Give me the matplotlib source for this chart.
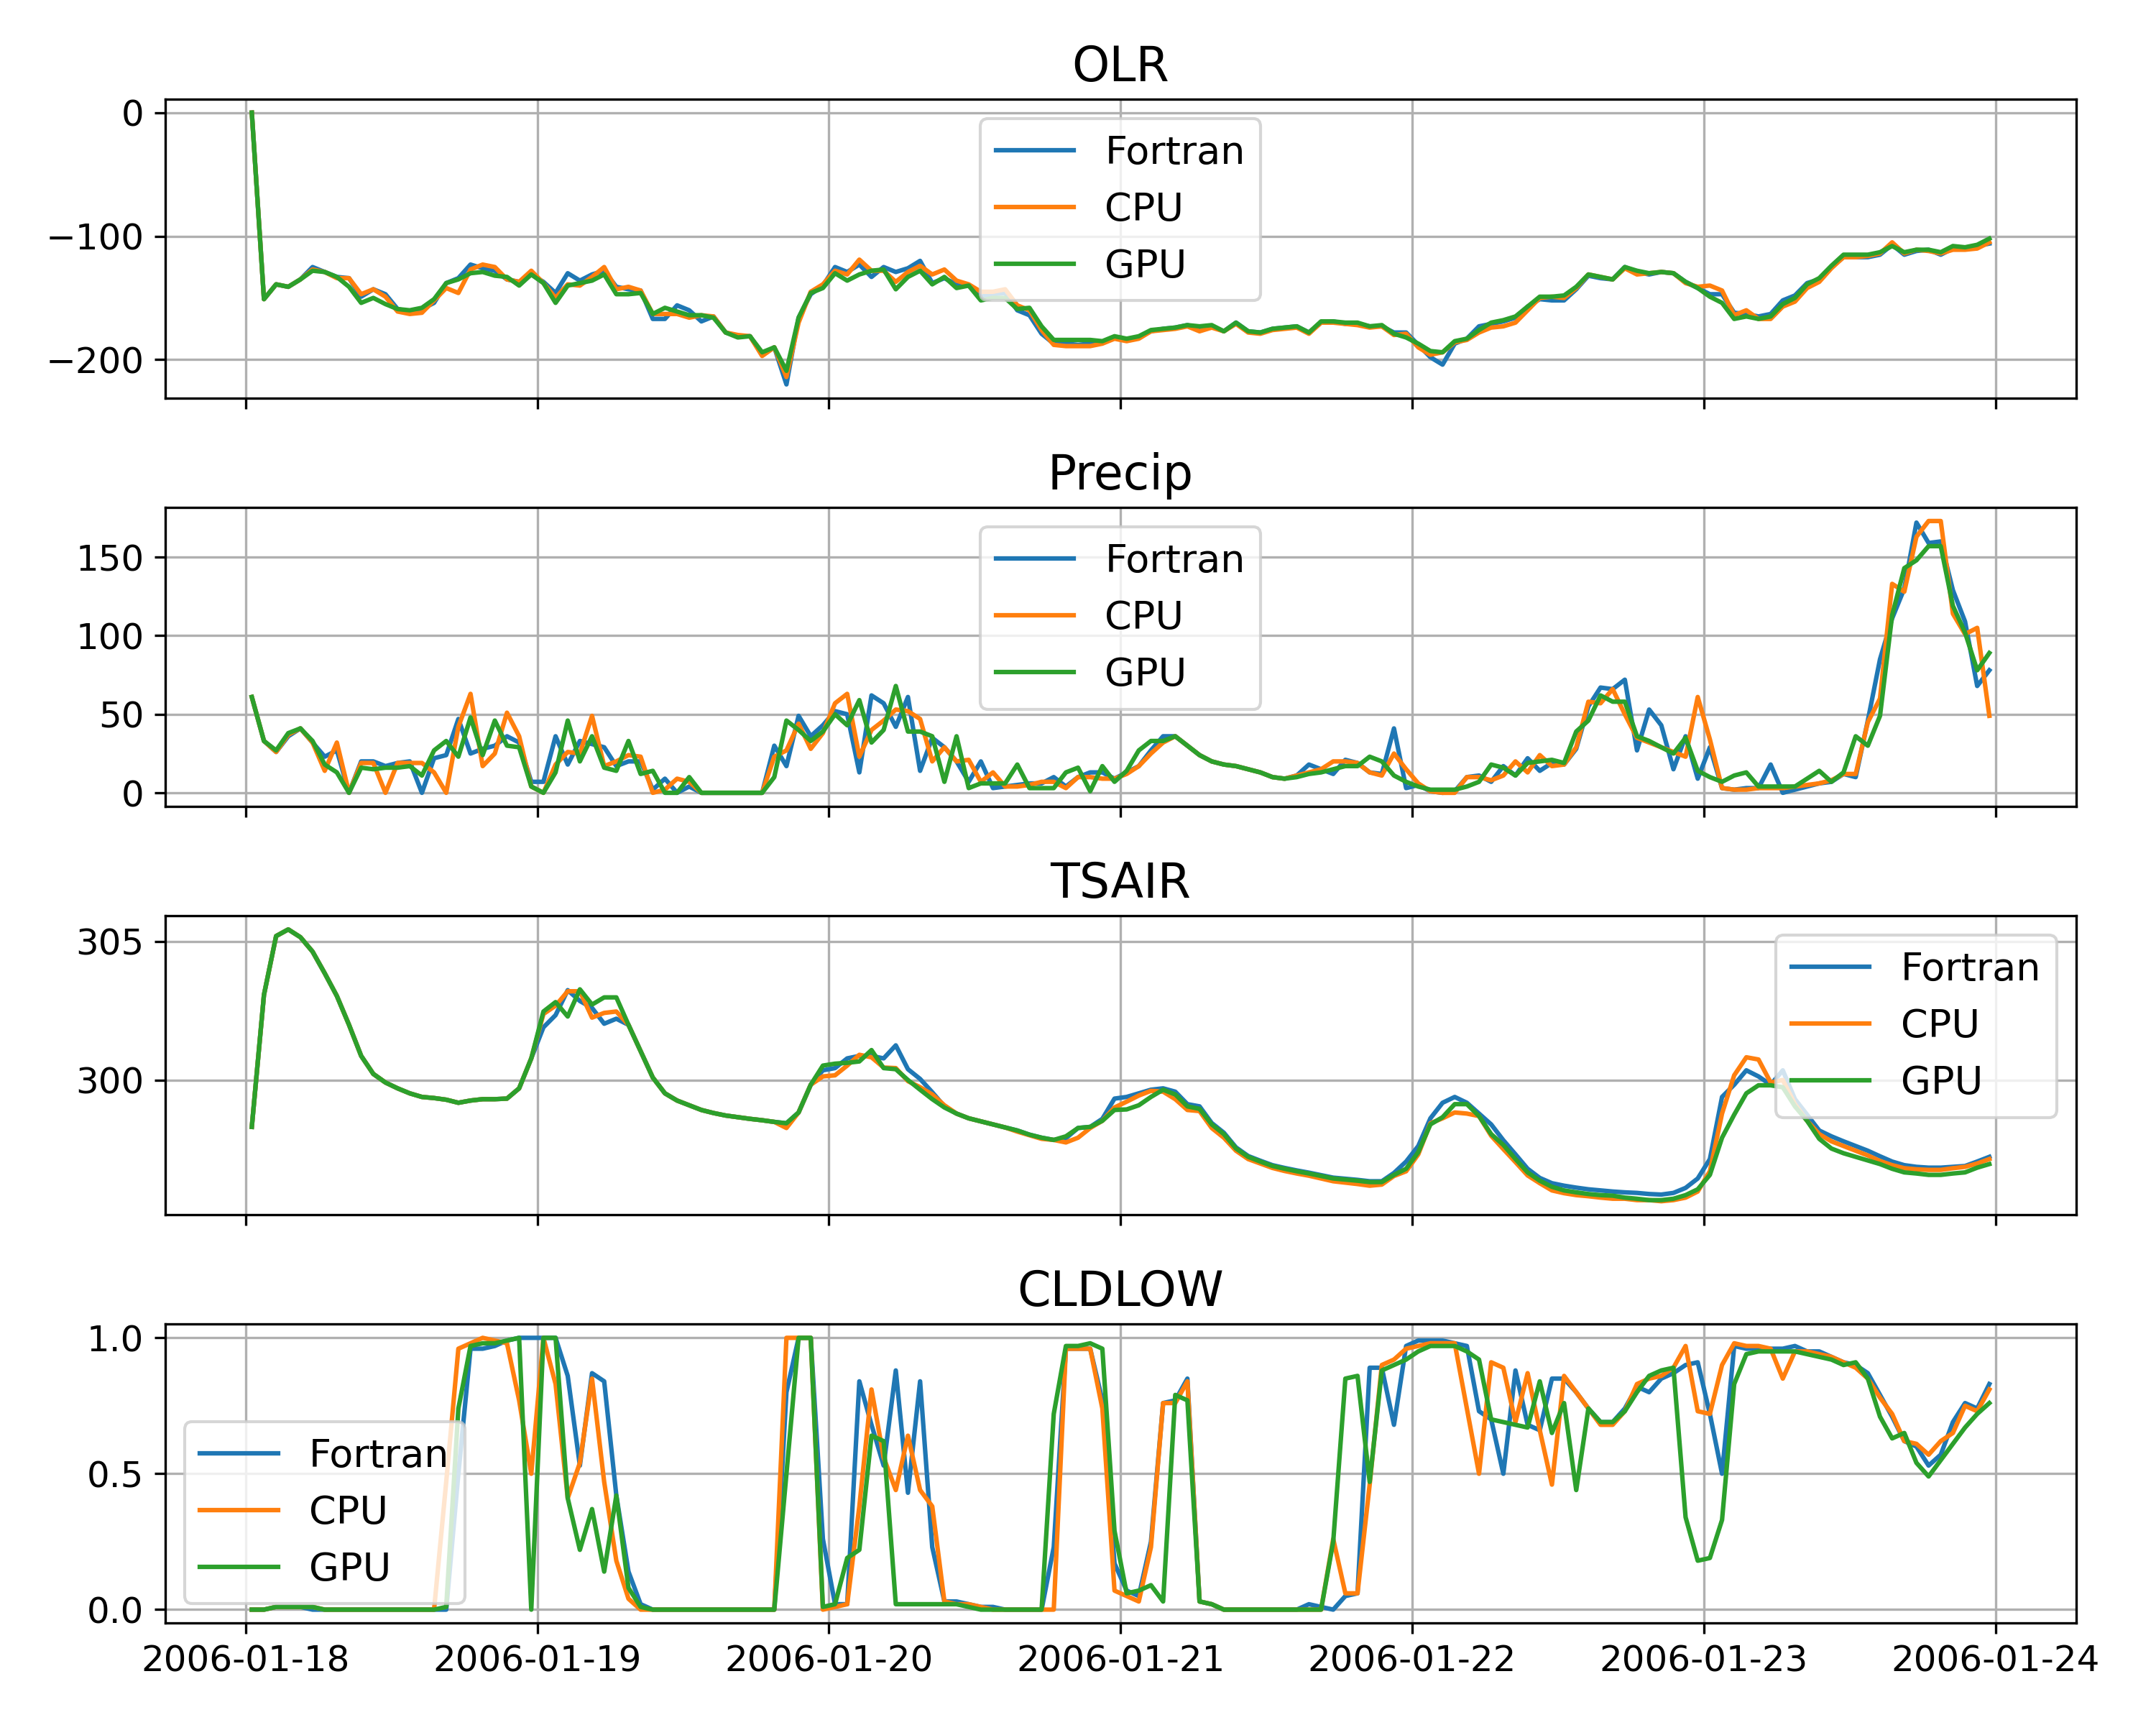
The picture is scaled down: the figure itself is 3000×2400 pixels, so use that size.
import numpy as np
import matplotlib
matplotlib.use("Agg")
import matplotlib.pyplot as plt

plt.rcParams["font.size"] = 12

# Hourly output times (half past each hour)
times = np.datetime64("2006-01-18T00:30") + np.arange(144) * np.timedelta64(1, "h")

labels = ["Fortran", "CPU", "GPU"]

# OLR
olr_fortran = [
    0, -151, -139, -141, -135, -125, -129, -133, -134, -149, -143, -147,
    -159, -161, -159, -154, -138, -134, -123, -126, -128, -135, -137, -131,
    -137, -146, -130, -136, -131, -128, -141, -143, -144, -167, -167, -156,
    -160, -169, -165, -178, -181, -181, -196, -190, -220, -166, -147, -140,
    -125, -129, -123, -133, -125, -129, -126, -120, -138, -134, -139, -140,
    -149, -147, -146, -160, -164, -179, -187, -187, -188, -187, -186, -182,
    -184, -182, -177, -175, -174, -172, -175, -173, -177, -170, -177, -178,
    -175, -174, -173, -178, -170, -169, -171, -171, -173, -173, -178, -178,
    -188, -198, -204, -187, -183, -173, -171, -169, -166, -157, -151, -152,
    -152, -143, -132, -134, -135, -125, -129, -131, -129, -130, -137, -142,
    -147, -147, -162, -163, -165, -163, -152, -148, -138, -135, -125, -117,
    -117, -117, -115, -107, -115, -112, -111, -115, -110, -110, -108, -106]
olr_cpu = [
    0, -151, -139, -141, -135, -127, -129, -134, -134, -147, -143, -149,
    -161, -163, -162, -152, -142, -146, -127, -123, -125, -135, -137, -128,
    -138, -150, -139, -140, -133, -125, -143, -141, -144, -163, -163, -163,
    -166, -164, -165, -178, -180, -181, -197, -190, -214, -170, -145, -139,
    -128, -131, -119, -128, -128, -137, -129, -124, -131, -127, -136, -139,
    -145, -145, -143, -156, -160, -176, -188, -189, -189, -189, -187, -183,
    -185, -183, -177, -176, -175, -173, -177, -174, -177, -171, -178, -179,
    -176, -175, -174, -179, -170, -170, -171, -172, -174, -173, -180, -179,
    -190, -196, -194, -186, -184, -178, -174, -173, -170, -160, -150, -149,
    -150, -142, -131, -133, -135, -126, -131, -130, -129, -130, -138, -141,
    -140, -144, -164, -160, -167, -167, -157, -153, -142, -137, -126, -117,
    -117, -116, -114, -105, -114, -111, -112, -114, -111, -111, -110, -105]
olr_gpu = [
    0, -151, -139, -141, -135, -128, -129, -133, -141, -154, -150, -155,
    -159, -160, -158, -151, -138, -135, -130, -129, -132, -133, -140, -131,
    -138, -154, -140, -138, -136, -131, -147, -147, -146, -163, -158, -161,
    -164, -164, -166, -178, -182, -181, -194, -190, -209, -166, -146, -142,
    -130, -136, -131, -128, -127, -143, -133, -128, -139, -133, -142, -140,
    -152, -150, -150, -159, -158, -173, -184, -184, -184, -184, -185, -181,
    -183, -181, -176, -175, -174, -172, -173, -172, -177, -170, -177, -178,
    -175, -174, -173, -178, -169, -169, -170, -170, -173, -172, -179, -182,
    -187, -193, -194, -185, -183, -176, -170, -168, -165, -157, -149, -149,
    -148, -141, -131, -133, -135, -125, -128, -130, -129, -130, -137, -142,
    -149, -154, -167, -165, -167, -165, -155, -150, -139, -134, -124, -115,
    -115, -115, -113, -108, -113, -111, -111, -113, -108, -109, -107, -102]

# Precip
precip_fortran = [
    61, 33, 26, 36, 41, 32, 23, 27, 0, 20, 20, 17,
    19, 20, 0, 22, 24, 47, 25, 28, 30, 36, 32, 7,
    7, 36, 18, 33, 31, 29, 17, 20, 20, 2, 9, 0,
    4, 0, 0, 0, 0, 0, 0, 30, 17, 49, 36, 43,
    52, 50, 13, 62, 57, 42, 61, 14, 35, 29, 20, 7,
    20, 3, 4, 5, 6, 6, 10, 4, 10, 13, 13, 9,
    13, 17, 27, 36, 36, 30, 24, 20, 18, 17, 15, 13,
    10, 9, 11, 18, 15, 12, 21, 19, 13, 12, 41, 3,
    5, 1, 0, 1, 10, 11, 7, 17, 11, 22, 14, 19,
    18, 28, 55, 67, 66, 72, 27, 53, 43, 15, 36, 9,
    29, 3, 2, 3, 3, 18, 0, 2, 4, 6, 7, 12,
    10, 46, 85, 111, 130, 172, 159, 160, 129, 109, 68, 78]
precip_cpu = [
    61, 33, 26, 37, 41, 32, 14, 32, 0, 19, 19, 0,
    19, 19, 19, 13, 0, 42, 63, 17, 25, 51, 36, 4,
    0, 18, 26, 25, 49, 17, 20, 24, 23, 0, 2, 9,
    7, 0, 0, 0, 0, 0, 0, 23, 27, 44, 28, 38,
    57, 63, 23, 40, 46, 53, 52, 47, 20, 29, 20, 21,
    7, 13, 4, 4, 5, 7, 7, 3, 10, 10, 9, 9,
    12, 17, 25, 32, 36, 30, 24, 20, 18, 17, 15, 13,
    10, 9, 11, 13, 15, 20, 20, 19, 13, 11, 25, 15,
    6, 1, 0, 0, 10, 10, 8, 11, 20, 13, 24, 17,
    18, 29, 58, 57, 66, 50, 35, 32, 29, 26, 23, 61,
    34, 3, 2, 2, 3, 3, 3, 4, 5, 6, 8, 12,
    12, 45, 60, 133, 128, 163, 173, 173, 114, 101, 105, 49]
precip_gpu = [
    61, 33, 27, 38, 41, 33, 18, 13, 0, 16, 15, 16,
    16, 17, 11, 27, 33, 23, 48, 24, 46, 30, 29, 4,
    0, 13, 46, 20, 36, 16, 14, 33, 12, 14, 0, 0,
    10, 0, 0, 0, 0, 0, 0, 10, 46, 40, 33, 39,
    50, 43, 59, 32, 40, 68, 39, 39, 36, 7, 36, 3,
    6, 6, 6, 18, 3, 3, 3, 13, 16, 1, 17, 7,
    14, 27, 33, 33, 36, 30, 24, 20, 18, 17, 15, 13,
    10, 9, 10, 12, 13, 15, 17, 17, 23, 20, 11, 7,
    4, 2, 2, 2, 4, 7, 18, 16, 11, 19, 20, 21,
    19, 39, 46, 62, 58, 58, 36, 33, 29, 25, 35, 14,
    10, 7, 11, 13, 4, 4, 4, 4, 9, 14, 7, 13,
    36, 30, 49, 113, 143, 148, 157, 157, 119, 102, 78, 89]

# TSAIR
tsair_fortran = [
    298.31, 303.07, 305.19, 305.43, 305.15, 304.63, 303.85, 303.03, 301.99, 300.87, 300.22, 299.91,
    299.70, 299.52, 299.39, 299.35, 299.29, 299.18, 299.26, 299.31, 299.31, 299.33, 299.70, 300.78,
    301.90, 302.34, 303.24, 302.85, 302.60, 302.03, 302.21, 301.99, 301.04, 300.09, 299.52, 299.26,
    299.09, 298.92, 298.81, 298.72, 298.66, 298.60, 298.55, 298.49, 298.44, 298.83, 299.83, 300.35,
    300.43, 300.78, 300.87, 300.87, 300.78, 301.25, 300.39, 300.04, 299.56, 299.05, 298.79, 298.62,
    298.51, 298.40, 298.29, 298.18, 298.03, 297.92, 297.84, 297.90, 298.27, 298.31, 298.60, 299.33,
    299.39, 299.52, 299.65, 299.70, 299.58, 299.13, 299.05, 298.45, 298.10, 297.57, 297.26, 297.09,
    296.93, 296.83, 296.74, 296.66, 296.57, 296.48, 296.44, 296.40, 296.35, 296.35, 296.65, 297.06,
    297.62, 298.62, 299.18, 299.39, 299.18, 298.79, 298.40, 297.83, 297.32, 296.80, 296.47, 296.28,
    296.19, 296.12, 296.06, 296.02, 295.98, 295.95, 295.93, 295.89, 295.87, 295.93, 296.11, 296.45,
    297.15, 299.39, 299.83, 300.35, 300.13, 299.83, 300.35, 299.31, 298.75, 298.18, 297.97, 297.79,
    297.62, 297.45, 297.25, 297.06, 296.93, 296.87, 296.84, 296.84, 296.87, 296.90, 297.06, 297.23]
tsair_cpu = [
    298.31, 303.07, 305.19, 305.43, 305.15, 304.63, 303.85, 303.03, 301.99, 300.87, 300.22, 299.91,
    299.70, 299.52, 299.39, 299.35, 299.29, 299.18, 299.26, 299.31, 299.31, 299.33, 299.70, 300.78,
    302.38, 302.68, 303.20, 303.20, 302.25, 302.42, 302.47, 301.99, 301.04, 300.09, 299.52, 299.26,
    299.09, 298.92, 298.81, 298.72, 298.66, 298.60, 298.55, 298.49, 298.27, 298.83, 299.83, 300.13,
    300.17, 300.52, 300.91, 300.82, 300.45, 300.43, 299.96, 299.74, 299.48, 299.09, 298.79, 298.62,
    298.51, 298.40, 298.29, 298.14, 298.01, 297.88, 297.84, 297.75, 297.92, 298.27, 298.53, 299.01,
    299.22, 299.44, 299.61, 299.58, 299.31, 298.92, 298.88, 298.27, 297.92, 297.45, 297.15, 296.99,
    296.83, 296.72, 296.63, 296.55, 296.45, 296.35, 296.30, 296.25, 296.19, 296.23, 296.54, 296.71,
    297.32, 298.44, 298.62, 298.83, 298.79, 298.70, 297.99, 297.51, 297.04, 296.56, 296.28, 296.02,
    295.92, 295.85, 295.81, 295.76, 295.72, 295.72, 295.67, 295.67, 295.63, 295.67, 295.76, 295.98,
    296.71, 298.79, 300.17, 300.82, 300.74, 299.91, 300.00, 299.13, 298.53, 298.05, 297.79, 297.62,
    297.45, 297.28, 297.08, 296.93, 296.82, 296.78, 296.76, 296.76, 296.82, 296.87, 296.99, 297.15]
tsair_gpu = [
    298.31, 303.07, 305.19, 305.43, 305.15, 304.63, 303.85, 303.03, 301.99, 300.87, 300.22, 299.91,
    299.70, 299.52, 299.39, 299.35, 299.29, 299.18, 299.26, 299.31, 299.31, 299.33, 299.70, 300.78,
    302.47, 302.81, 302.29, 303.27, 302.72, 302.98, 302.98, 301.99, 301.04, 300.09, 299.52, 299.26,
    299.09, 298.92, 298.81, 298.72, 298.66, 298.60, 298.55, 298.49, 298.44, 298.83, 299.83, 300.52,
    300.59, 300.62, 300.67, 301.08, 300.43, 300.39, 300.00, 299.65, 299.31, 299.01, 298.79, 298.62,
    298.51, 298.40, 298.29, 298.18, 298.03, 297.92, 297.84, 297.97, 298.27, 298.31, 298.53, 298.92,
    298.94, 299.09, 299.39, 299.65, 299.48, 299.05, 298.96, 298.40, 298.05, 297.53, 297.23, 297.06,
    296.90, 296.80, 296.71, 296.63, 296.54, 296.45, 296.41, 296.37, 296.32, 296.32, 296.58, 296.80,
    297.40, 298.40, 298.66, 299.13, 299.13, 298.70, 298.05, 297.66, 297.15, 296.67, 296.37, 296.15,
    296.02, 295.95, 295.89, 295.85, 295.83, 295.76, 295.72, 295.67, 295.67, 295.72, 295.85, 296.06,
    296.58, 297.92, 298.75, 299.52, 299.81, 299.81, 299.74, 299.05, 298.53, 297.88, 297.53, 297.36,
    297.23, 297.10, 296.97, 296.80, 296.67, 296.63, 296.58, 296.58, 296.63, 296.67, 296.84, 296.97]

# CLDLOW
cldlow_fortran = [
    0, 0, 0.01, 0.01, 0.01, 0, 0, 0, 0, 0, 0, 0,
    0, 0, 0, 0, 0, 0.5, 0.96, 0.96, 0.97, 0.99, 1.0, 1.0,
    1.0, 1.0, 0.86, 0.53, 0.87, 0.84, 0.42, 0.14, 0.02, 0, 0, 0,
    0, 0, 0, 0, 0, 0, 0, 0, 0.8, 1.0, 1.0, 0.26,
    0.02, 0.02, 0.84, 0.68, 0.53, 0.88, 0.43, 0.84, 0.23, 0.03, 0.03, 0.02,
    0.01, 0.01, 0, 0, 0, 0, 0.23, 0.96, 0.96, 0.96, 0.77, 0.17,
    0.07, 0.05, 0.25, 0.76, 0.77, 0.85, 0.03, 0.02, 0, 0, 0, 0,
    0, 0, 0, 0.02, 0.01, 0, 0.05, 0.06, 0.89, 0.89, 0.68, 0.97,
    0.99, 0.99, 0.99, 0.98, 0.97, 0.73, 0.70, 0.50, 0.88, 0.68, 0.66, 0.85,
    0.85, 0.80, 0.74, 0.69, 0.69, 0.74, 0.82, 0.80, 0.85, 0.87, 0.90, 0.91,
    0.72, 0.50, 0.97, 0.96, 0.96, 0.96, 0.96, 0.97, 0.95, 0.95, 0.93, 0.91,
    0.90, 0.87, 0.79, 0.71, 0.62, 0.60, 0.53, 0.57, 0.69, 0.76, 0.74, 0.83]
cldlow_cpu = [
    0, 0, 0.01, 0.01, 0.01, 0.01, 0, 0, 0, 0, 0, 0,
    0, 0, 0, 0, 0.47, 0.96, 0.98, 1.0, 0.99, 0.98, 0.77, 0.50,
    1.0, 0.83, 0.41, 0.54, 0.85, 0.47, 0.18, 0.04, 0, 0, 0, 0,
    0, 0, 0, 0, 0, 0, 0, 0, 1.0, 1.0, 1.0, 0.0,
    0.01, 0.02, 0.38, 0.81, 0.56, 0.44, 0.64, 0.44, 0.38, 0.03, 0.02, 0.02,
    0.01, 0, 0, 0, 0, 0, 0, 0.96, 0.96, 0.96, 0.74, 0.07,
    0.05, 0.03, 0.23, 0.76, 0.76, 0.84, 0.03, 0.02, 0, 0, 0, 0,
    0, 0, 0, 0, 0, 0.26, 0.06, 0.06, 0.46, 0.90, 0.92, 0.96,
    0.97, 0.98, 0.98, 0.98, 0.74, 0.50, 0.91, 0.89, 0.69, 0.87, 0.66, 0.46,
    0.86, 0.80, 0.74, 0.68, 0.68, 0.73, 0.83, 0.85, 0.86, 0.89, 0.97, 0.73,
    0.72, 0.90, 0.98, 0.97, 0.97, 0.96, 0.85, 0.95, 0.95, 0.94, 0.93, 0.91,
    0.89, 0.85, 0.78, 0.72, 0.62, 0.61, 0.57, 0.62, 0.65, 0.75, 0.73, 0.81]
cldlow_gpu = [
    0, 0, 0.01, 0.01, 0.01, 0.01, 0, 0, 0, 0, 0, 0,
    0, 0, 0, 0, 0.01, 0.74, 0.97, 0.98, 0.98, 0.99, 1.0, 0.0,
    1.0, 1.0, 0.41, 0.22, 0.37, 0.14, 0.42, 0.08, 0.01, 0, 0, 0,
    0, 0, 0, 0, 0, 0, 0, 0, 0.5, 1.0, 1.0, 0.01,
    0.02, 0.19, 0.22, 0.64, 0.62, 0.02, 0.02, 0.02, 0.02, 0.02, 0.02, 0.01,
    0, 0, 0, 0, 0, 0, 0.72, 0.97, 0.97, 0.98, 0.96, 0.29,
    0.06, 0.07, 0.09, 0.03, 0.79, 0.77, 0.03, 0.02, 0, 0, 0, 0,
    0, 0, 0, 0, 0, 0.25, 0.85, 0.86, 0.47, 0.88, 0.90, 0.92,
    0.95, 0.97, 0.97, 0.97, 0.95, 0.92, 0.70, 0.69, 0.68, 0.67, 0.84, 0.65,
    0.76, 0.44, 0.74, 0.69, 0.69, 0.73, 0.80, 0.86, 0.88, 0.89, 0.34, 0.18,
    0.19, 0.33, 0.83, 0.94, 0.95, 0.95, 0.95, 0.95, 0.94, 0.93, 0.92, 0.90,
    0.91, 0.85, 0.71, 0.63, 0.65, 0.54, 0.49, 0.55, 0.61, 0.67, 0.72, 0.76]

# Panels: title, series, legend location
panels = [
    ("OLR", [olr_fortran, olr_cpu, olr_gpu], "upper center"),
    ("Precip", [precip_fortran, precip_cpu, precip_gpu], "upper center"),
    ("TSAIR", [tsair_fortran, tsair_cpu, tsair_gpu], "upper right"),
    ("CLDLOW", [cldlow_fortran, cldlow_cpu, cldlow_gpu], "lower left"),
]

fig, axes = plt.subplots(4, 1, figsize=(10, 8), sharex=True)
fig.subplots_adjust(left=0.0765, right=0.963, top=0.9426, bottom=0.059, hspace=0.366)

for ax, (title, series, loc) in zip(axes, panels):
    for values, label in zip(series, labels):
        ax.plot(times, values, label=label)
    ax.set_title(title, fontsize=16)
    ax.grid(True)
    ax.legend(loc=loc, fontsize=13)

fig.savefig("out.png", dpi=300)
